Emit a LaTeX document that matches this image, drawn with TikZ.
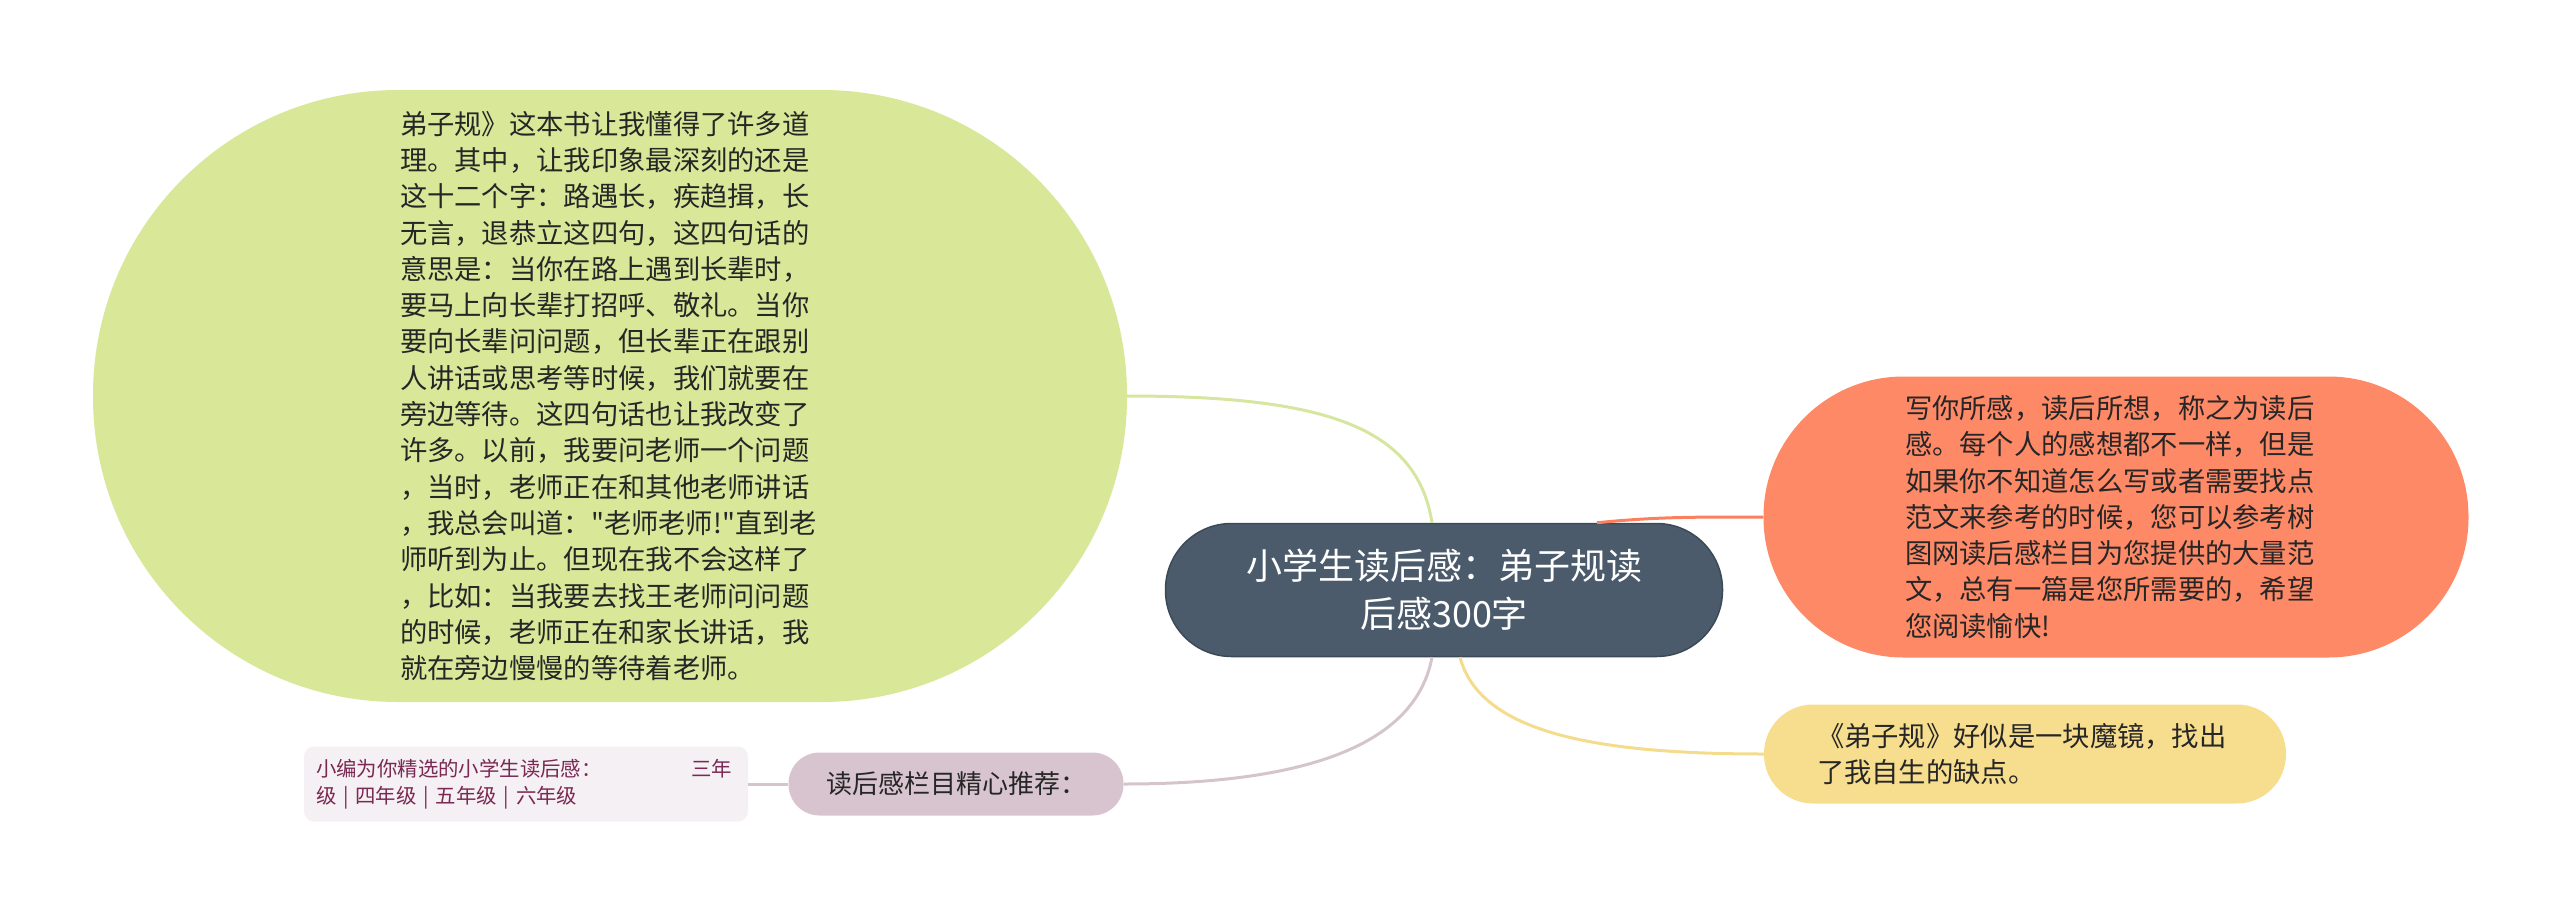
\documentclass[tikz,border=0pt]{standalone}
\usepackage{fontspec}
\setmainfont{Noto Sans CJK SC}[Ligatures=TeXOff]

\definecolor{textdark}{RGB}{38,38,38}
\definecolor{topicfill}{RGB}{75,91,107}
\definecolor{topicdraw}{RGB}{60,74,88}
\definecolor{sagefill}{RGB}{216,231,152}
\definecolor{sageline}{RGB}{214,230,160}
\definecolor{coralfill}{RGB}{254,137,103}
\definecolor{coralline}{RGB}{250,128,96}
\definecolor{sandfill}{RGB}{247,222,142}
\definecolor{sandline}{RGB}{244,220,140}
\definecolor{mauvefill}{RGB}{216,196,206}
\definecolor{mauveline}{RGB}{214,196,205}
\definecolor{leaffill}{RGB}{245,240,243}
\definecolor{leaftext}{RGB}{122,40,84}

\newcommand{\txtbody}{\fontsize{27.3pt}{36.3pt}\selectfont}

\begin{document}
\begin{tikzpicture}[x=1pt,y=-1pt,
  bubble/.style={rectangle,inner sep=0pt,align=left,text=textdark,font=\txtbody},
  link/.style={line width=3pt}]
\useasboundingbox (0,0) rectangle (2560,913);

% central topic
\node[bubble,fill=topicfill,draw=topicdraw,line width=1.5pt,text=white,align=center,
  minimum width=557pt,minimum height=133pt,rounded corners=66pt,
  font=\fontsize{36pt}{48pt}\selectfont] (topic) at (1444,590)
  {小学生读后感：弟子规读\\后感300字};

% big green bubble on the left
\node[bubble,fill=sagefill,minimum width=1034pt,minimum height=612pt,
  rounded corners=305pt,text width=420pt] (book) at (610,396)
  {弟子规》这本书让我懂得了许多道\\
   理。其中，让我印象最深刻的还是\\
   这十二个字：路遇长，疾趋揖，长\\
   无言，退恭立这四句，这四句话的\\
   意思是：当你在路上遇到长辈时，\\
   要马上向长辈打招呼、敬礼。当你\\
   要向长辈问问题，但长辈正在跟别\\
   人讲话或思考等时候，我们就要在\\
   旁边等待。这四句话也让我改变了\\
   许多。以前，我要问老师一个问题\\
   ，当时，老师正在和其他老师讲话\\
   ，我总会叫道："老师老师!"直到老\\
   师听到为止。但现在我不会这样了\\
   ，比如：当我要去找王老师问问题\\
   的时候，老师正在和家长讲话，我\\
   就在旁边慢慢的等待着老师。};

% right side
\node[bubble,fill=coralfill,minimum width=705pt,minimum height=281pt,
  rounded corners=140pt,text width=422pt] (essay) at (2116,517)
  {写你所感，读后所想，称之为读后\\
   感。每个人的感想都不一样，但是\\
   如果你不知道怎么写或者需要找点\\
   范文来参考的时候，您可以参考树\\
   图网读后感栏目为您提供的大量范\\
   文，总有一篇是您所需要的，希望\\
   您阅读愉快!};
\node[bubble,fill=sandfill,minimum width=522pt,minimum height=99pt,
  rounded corners=49pt,text width=416pt] (mirror) at (2025,754)
  {《弟子规》好似是一块魔镜，找出\\
   了我自生的缺点。};

% bottom branch and its leaf
\node[bubble,fill=mauvefill,minimum width=335pt,minimum height=63pt,
  rounded corners=31pt,align=center,font=\fontsize{26pt}{32pt}\selectfont]
  (pick) at (956,784) {读后感栏目精心推荐：};
\node[bubble,fill=leaffill,text=leaftext,minimum width=444pt,minimum height=75pt,
  rounded corners=10pt,text width=420pt,font=\fontsize{20.4pt}{27pt}\selectfont]
  (leaf) at (526,784)
  {\makebox[416pt][l]{小编为你精选的小学生读后感：\hfill 三年}\\
   级 | 四年级 | 五年级 | 六年级};

% connectors
\draw[link,sageline] ([xshift=-12pt]topic.north) .. controls +(-15,-95) and +(200,0) .. (book.east);
\draw[link,coralline] ([xshift=153pt]topic.north) .. controls +(60,-6) and +(-70,0) .. (essay.west);
\draw[link,sandline] ([xshift=16pt]topic.south) .. controls +(20,75) and +(-170,0) .. (mirror.west);
\draw[link,mauveline] ([xshift=-12pt]topic.south) .. controls +(-15,80) and +(200,0) .. (pick.east);
\draw[link,mauveline] (pick.west) -- (leaf.east);
\end{tikzpicture}
\end{document}
